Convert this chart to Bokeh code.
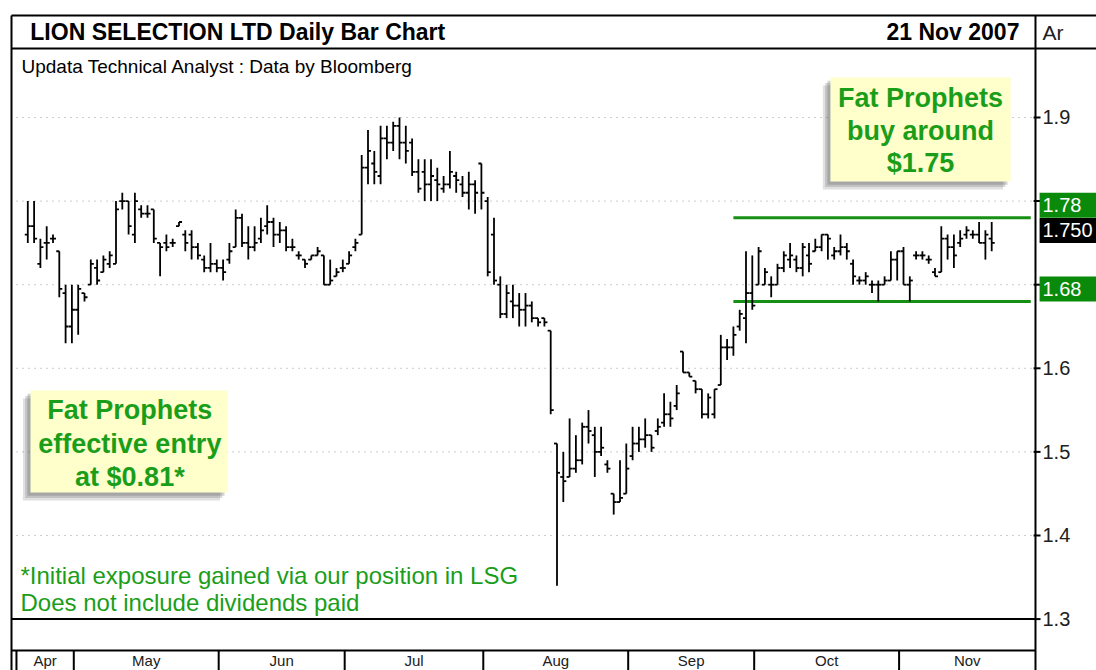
import numpy as np
from bokeh.plotting import figure
from bokeh.models import Range1d, ColumnDataSource
from bokeh.core.properties import value
from bokeh.embed import file_html
from bokeh.resources import INLINE

# ---------------- data ----------------
months = ["Apr", "May", "Jun", "Jul", "Aug", "Sep", "Oct", "Nov"]
month_bar_counts = [8, 23, 20, 22, 23, 20, 23, 15]

high = [1.80, 1.80, 1.755, 1.77, 1.76, 1.74, 1.70, 1.70, 1.70, 1.69,
        1.73, 1.73, 1.735, 1.74, 1.80, 1.81, 1.80, 1.81, 1.795, 1.795,
        1.79, 1.75, 1.76, 1.755, 1.775, 1.765, 1.765, 1.75, 1.735, 1.75,
        1.73, 1.73, 1.75, 1.79, 1.785, 1.77, 1.77, 1.78, 1.795, 1.78,
        1.775, 1.77, 1.755, 1.74, 1.73, 1.735, 1.745, 1.735, 1.73, 1.72,
        1.73, 1.74, 1.755, 1.855, 1.885, 1.86, 1.89, 1.89, 1.895, 1.90,
        1.89, 1.875, 1.85, 1.85, 1.85, 1.84, 1.83, 1.86, 1.835, 1.83,
        1.835, 1.825, 1.845, 1.805, 1.78, 1.71, 1.70, 1.70, 1.69, 1.69,
        1.68, 1.66, 1.66, 1.645, 1.51, 1.50, 1.54, 1.52, 1.535, 1.55,
        1.53, 1.53, 1.49, 1.45, 1.49, 1.51, 1.53, 1.53, 1.54, 1.52,
        1.54, 1.57, 1.56, 1.58, 1.62, 1.595, 1.585, 1.575, 1.57, 1.575,
        1.64, 1.635, 1.65, 1.67, 1.74, 1.735, 1.745, 1.72, 1.71, 1.725,
        1.74, 1.75, 1.735, 1.75, 1.75, 1.755, 1.76, 1.76, 1.745, 1.76,
        1.75, 1.73, 1.71, 1.715, 1.705, 1.705, 1.71, 1.74, 1.74, 1.745,
        1.71, 1.74, 1.74, 1.735, 1.72, 1.77, 1.76, 1.76, 1.765, 1.77,
        1.765, 1.775, 1.765, 1.775]

low = [1.75, 1.75, 1.72, 1.73, 1.75, 1.685, 1.63, 1.63, 1.64, 1.68,
       1.70, 1.70, 1.715, 1.72, 1.725, 1.79, 1.76, 1.75, 1.78, 1.78,
       1.75, 1.71, 1.74, 1.745, 1.77, 1.74, 1.73, 1.73, 1.715, 1.715,
       1.715, 1.705, 1.725, 1.745, 1.745, 1.73, 1.74, 1.75, 1.76, 1.745,
       1.75, 1.74, 1.74, 1.73, 1.72, 1.73, 1.735, 1.70, 1.70, 1.71,
       1.715, 1.725, 1.74, 1.76, 1.82, 1.82, 1.82, 1.85, 1.86, 1.85,
       1.845, 1.83, 1.81, 1.80, 1.80, 1.80, 1.81, 1.815, 1.81, 1.805,
       1.79, 1.785, 1.79, 1.71, 1.70, 1.66, 1.66, 1.66, 1.65, 1.65,
       1.655, 1.65, 1.65, 1.545, 1.34, 1.44, 1.47, 1.475, 1.485, 1.51,
       1.47, 1.495, 1.475, 1.425, 1.44, 1.45, 1.49, 1.50, 1.505, 1.50,
       1.52, 1.53, 1.53, 1.55, 1.595, 1.59, 1.57, 1.54, 1.54, 1.54,
       1.58, 1.61, 1.615, 1.645, 1.63, 1.67, 1.70, 1.70, 1.685, 1.70,
       1.715, 1.72, 1.715, 1.71, 1.715, 1.74, 1.74, 1.73, 1.73, 1.735,
       1.73, 1.70, 1.70, 1.70, 1.69, 1.68, 1.70, 1.705, 1.705, 1.70,
       1.68, 1.73, 1.73, 1.725, 1.71, 1.715, 1.73, 1.72, 1.745, 1.755,
       1.755, 1.75, 1.73, 1.74]

open_ = [1.76, 1.77, 1.725, 1.75, 1.755, 1.74, 1.69, 1.65, 1.67, 1.69,
         1.70, 1.72, 1.715, 1.725, 1.725, 1.80, 1.80, 1.76, 1.79, 1.785,
         1.79, 1.75, 1.75, 1.75, 1.77, 1.76, 1.76, 1.745, 1.73, 1.72,
         1.725, 1.72, 1.73, 1.745, 1.78, 1.75, 1.745, 1.755, 1.77, 1.775,
         1.76, 1.765, 1.745, 1.735, 1.73, 1.73, 1.735, 1.735, 1.70, 1.71,
         1.72, 1.725, 1.745, 1.76, 1.84, 1.845, 1.83, 1.875, 1.87, 1.89,
         1.87, 1.87, 1.835, 1.835, 1.82, 1.825, 1.815, 1.82, 1.83, 1.82,
         1.81, 1.82, 1.845, 1.80, 1.76, 1.70, 1.665, 1.68, 1.675, 1.67,
         1.675, 1.66, 1.66, 1.645, 1.51, 1.47, 1.47, 1.48, 1.49, 1.53,
         1.52, 1.50, 1.485, 1.45, 1.44, 1.45, 1.495, 1.51, 1.515, 1.52,
         1.525, 1.535, 1.545, 1.555, 1.62, 1.595, 1.585, 1.575, 1.545, 1.545,
         1.58, 1.625, 1.625, 1.65, 1.66, 1.69, 1.70, 1.70, 1.70, 1.70,
         1.72, 1.73, 1.73, 1.72, 1.735, 1.74, 1.745, 1.76, 1.735, 1.74,
         1.745, 1.725, 1.705, 1.705, 1.70, 1.70, 1.70, 1.705, 1.73, 1.74,
         1.70, 1.735, 1.735, 1.73, 1.715, 1.715, 1.755, 1.745, 1.75, 1.76,
         1.76, 1.76, 1.75, 1.755]

close = [1.77, 1.755, 1.745, 1.75, 1.755, 1.695, 1.65, 1.67, 1.695, 1.685,
         1.725, 1.705, 1.73, 1.735, 1.79, 1.80, 1.77, 1.80, 1.785, 1.785,
         1.755, 1.745, 1.745, 1.75, 1.775, 1.75, 1.745, 1.735, 1.72, 1.725,
         1.72, 1.715, 1.74, 1.78, 1.75, 1.745, 1.75, 1.765, 1.775, 1.76,
         1.765, 1.745, 1.745, 1.735, 1.725, 1.735, 1.74, 1.70, 1.705, 1.715,
         1.72, 1.735, 1.75, 1.84, 1.86, 1.835, 1.875, 1.87, 1.89, 1.87,
         1.86, 1.835, 1.815, 1.82, 1.83, 1.82, 1.82, 1.835, 1.825, 1.81,
         1.82, 1.81, 1.81, 1.715, 1.705, 1.665, 1.69, 1.675, 1.67, 1.675,
         1.66, 1.655, 1.655, 1.55, 1.475, 1.465, 1.48, 1.49, 1.53, 1.525,
         1.50, 1.505, 1.48, 1.44, 1.445, 1.48, 1.51, 1.515, 1.52, 1.505,
         1.53, 1.545, 1.54, 1.57, 1.595, 1.59, 1.575, 1.545, 1.565, 1.575,
         1.625, 1.625, 1.64, 1.665, 1.69, 1.675, 1.74, 1.715, 1.70, 1.72,
         1.735, 1.735, 1.72, 1.745, 1.725, 1.745, 1.76, 1.755, 1.74, 1.745,
         1.74, 1.71, 1.705, 1.71, 1.70, 1.70, 1.705, 1.73, 1.74, 1.70,
         1.705, 1.735, 1.735, 1.73, 1.71, 1.755, 1.745, 1.735, 1.755, 1.765,
         1.76, 1.75, 1.76, 1.75]

y_ticks = [1.3, 1.4, 1.5, 1.6, 1.7, 1.8, 1.9]
y_tick_labels = ["1.3", "1.4", "1.5", "1.6", "1.7", "1.8", "1.9"]
level_values = [1.78, 1.68]
level_labels = ["1.78", "1.68"]
last_price = [1.75]
last_price_label = ["1.750"]

title_text = "LION SELECTION LTD Daily Bar Chart"
date_text = "21 Nov 2007"
subtitle_text = "Updata Technical Analyst : Data by Bloomberg"
axis_header = "Ar"
callout_top = ["Fat Prophets", "buy around", "$1.75"]
callout_left = ["Fat Prophets", "effective entry", "at $0.81*"]
footnote = ["*Initial exposure gained via our position in LSG",
            "Does not include dividends paid"]

# ---------------- styling / layout ----------------
GREEN_TXT = "#1a9e1a"
GREEN_LINE = "#159015"
GREEN_BOX = "#0a8a0a"
YELLOW = "#ffffcc"
FONT = value("Liberation Sans")

X0, X1 = -4.333, 169.635        # whole canvas width in bar-index units
Y0, Y1 = 1.2385, 2.03995        # whole canvas height in price units
LEFT_EDGE, AXIS_X = -2.587, 159.95
TOP_EDGE, TITLE_LINE, MONTH_LINE = 2.022, 1.9825, 1.2624

p = figure(width=1096, height=670, x_range=Range1d(X0, X1), y_range=Range1d(Y0, Y1),
           output_backend="svg", toolbar_location=None, title=None,
           x_axis_location=None, y_axis_location=None,
           min_border_left=0, min_border_right=0, min_border_top=0, min_border_bottom=0)
p.background_fill_color = "white"
p.border_fill_color = "white"
p.outline_line_color = None
p.grid.visible = False

# dotted price grid
n_t = len(y_ticks)
p.segment(x0=[-1.79] * n_t, y0=y_ticks, x1=[AXIS_X] * n_t, y1=y_ticks,
          line_color="#9a9a9a", line_dash="1 5", line_width=1)

# frame lines
p.segment(x0=[LEFT_EDGE, LEFT_EDGE, LEFT_EDGE, LEFT_EDGE, LEFT_EDGE, AXIS_X],
          y0=[TOP_EDGE, TITLE_LINE, y_ticks[0], MONTH_LINE, TOP_EDGE, TOP_EDGE],
          x1=[X1 + 1, X1 + 1, AXIS_X, AXIS_X, LEFT_EDGE, AXIS_X],
          y1=[TOP_EDGE, TITLE_LINE, y_ticks[0], MONTH_LINE, Y0 - 0.05, Y0 - 0.05],
          line_color="black", line_width=2)

# price axis ticks and labels
p.segment(x0=[AXIS_X - 0.3] * n_t, y0=y_ticks, x1=[AXIS_X + 0.8] * n_t, y1=y_ticks,
          line_color="black", line_width=2)
p.text(x=[161.06] * n_t, y=y_ticks, text=y_tick_labels, text_font=FONT,
       text_font_size="20px", text_align="left", text_baseline="middle", text_color="#202020")
p.text(x=[161.06], y=[2.0017], text=[axis_header], text_font=FONT,
       text_font_size="21px", text_align="left", text_baseline="middle", text_color="#202020")

# month row
ends = np.cumsum(month_bar_counts) - 1
seps = [-1.8] + [float(e) + 0.3 for e in ends[:-1]]
bounds = seps + [AXIS_X]
centers = [(bounds[i] + bounds[i + 1]) / 2 for i in range(len(months))]
p.segment(x0=seps, y0=[MONTH_LINE] * len(seps), x1=seps, y1=[Y0 - 0.05] * len(seps),
          line_color="black", line_width=2)
p.text(x=centers, y=[1.2612] * len(months), text=months, text_font=FONT,
       text_font_size="15px", text_align="center", text_baseline="top", text_color="#202020")

# title row
p.text(x=[0.4], y=[2.0017], text=[title_text], text_font=FONT, text_font_style="bold",
       text_font_size="23px", text_align="left", text_baseline="middle", text_color="black")
p.text(x=[157.4], y=[2.0017], text=[date_text], text_font=FONT, text_font_style="bold",
       text_font_size="23px", text_align="right", text_baseline="middle", text_color="black")
p.text(x=[-1.0], y=[1.961], text=[subtitle_text], text_font=FONT,
       text_font_size="19px", text_align="left", text_baseline="middle", text_color="black")

# support / resistance lines
p.segment(x0=[112.0] * 2, y0=level_values, x1=[159.2] * 2, y1=level_values,
          line_color=GREEN_LINE, line_width=3)

# OHLC bars
idx = list(range(len(high)))
src = ColumnDataSource(dict(x=idx, high=high, low=low, open=open_, close=close,
                            xo=[i - 0.48 for i in idx], xc=[i + 0.48 for i in idx]))
p.segment(x0="x", y0="low", x1="x", y1="high", source=src, line_color="black", line_width=1.8)
p.segment(x0="xo", y0="open", x1="x", y1="open", source=src, line_color="black", line_width=1.8)
p.segment(x0="x", y0="close", x1="xc", y1="close", source=src, line_color="black", line_width=1.8)


def callout(left, right, top, bottom, lines, cx, ys):
    dx, dy = 1.2, 0.0095
    for k, a in [(1.0, 0.18), (0.7, 0.22), (0.4, 0.25)]:
        p.quad(left=[left - dx * k], right=[right - dx * k], top=[top - dy * k],
               bottom=[bottom - dy * k], fill_color="#555555", fill_alpha=a, line_color=None)
    p.quad(left=[left], right=[right], top=[top], bottom=[bottom], fill_color=YELLOW,
           line_color=None)
    p.text(x=[cx] * len(lines), y=ys, text=lines, text_font=FONT, text_font_style="bold",
           text_font_size="27px", text_align="center", text_baseline="middle", text_color=GREEN_TXT)


callout(127.4, 156.0, 1.9478, 1.8234, callout_top, 141.7, [1.9239, 1.8833, 1.845])
callout(0.43, 31.7, 1.5734, 1.4514, callout_left, 16.2, [1.5507, 1.510, 1.4694])

p.text(x=[-1.16, -1.16], y=[1.3522, 1.3199], text=footnote, text_font=FONT,
       text_font_size="24px", text_align="left", text_baseline="middle", text_color=GREEN_TXT)

# value boxes on the price axis
BOX_H = 0.0299
p.quad(left=[160.6] * 2, right=[X1 + 1] * 2, bottom=level_values,
       top=[v + BOX_H for v in level_values], fill_color=GREEN_BOX, line_color=None)
p.quad(left=[160.6], right=[X1 + 1], bottom=last_price,
       top=[v + BOX_H for v in last_price], fill_color="black", line_color=None)
p.text(x=[161.06] * 2, y=[v + BOX_H / 2 for v in level_values], text=level_labels,
       text_font=FONT, text_font_size="20px", text_align="left", text_baseline="middle",
       text_color="white")
p.text(x=[161.06], y=[v + BOX_H / 2 for v in last_price], text=last_price_label,
       text_font=FONT, text_font_size="20px", text_align="left", text_baseline="middle",
       text_color="white")

open("out.html", "w").write(file_html(p, INLINE))
